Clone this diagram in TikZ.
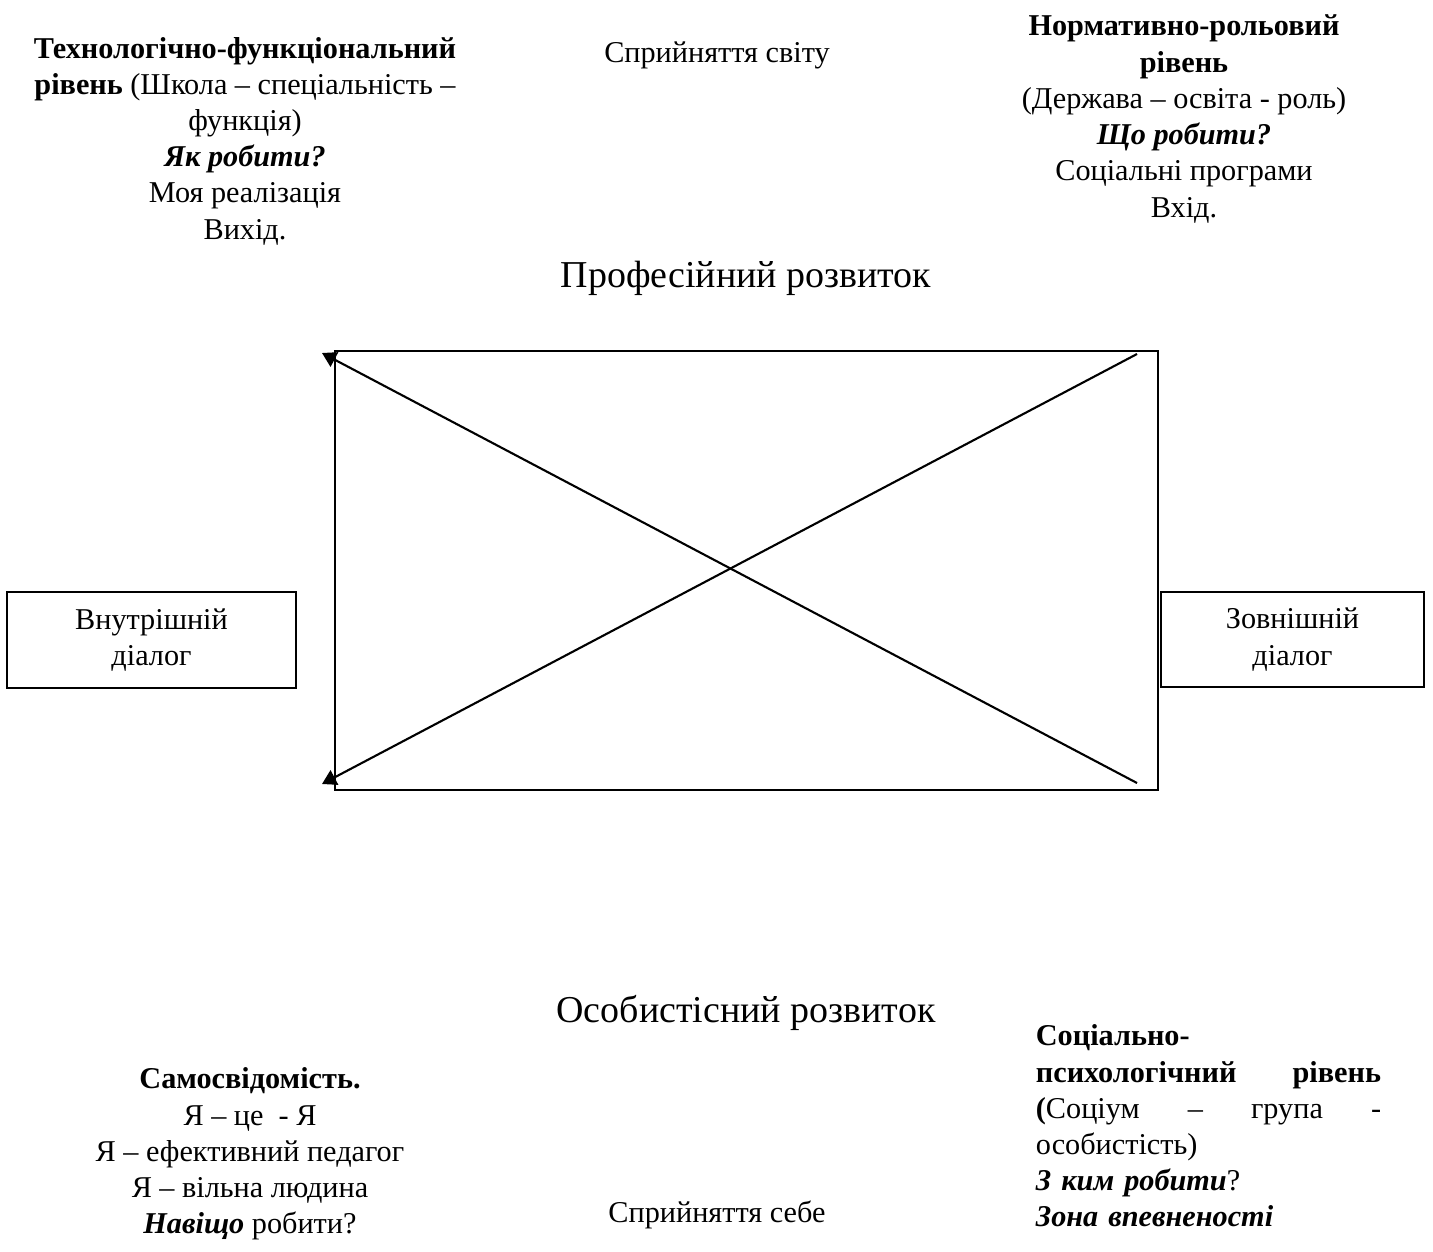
\documentclass[tikz,border=0pt]{standalone}
\usepackage{fontspec}
\setmainfont{Liberation Serif}
\usetikzlibrary{arrows.meta}

\begin{document}
\begin{tikzpicture}[x=0.01cm, y=-0.01cm,
        txt/.style={align=center, inner sep=0pt, font=\fontsize{8.6}{10.3}\selectfont},
        head/.style={inner sep=0pt, font=\fontsize{10.8}{13}\selectfont},
        dialog/.style={draw, line width=0.35pt, align=center, inner sep=0pt, font=\fontsize{8.6}{10.3}\selectfont},
        diag/.style={line width=0.6pt, -{Triangle[length=4pt, width=4.6pt]}}]
        \useasboundingbox (0, 0) rectangle (1433, 1251);

        \node[draw, line width=0.6pt, inner sep=0pt, minimum width=8.23cm, minimum height=4.39cm] (frame) at (746.5, 570.5) {};
        \node[dialog, minimum width=2.89cm, minimum height=0.96cm] (inner) at (151.5, 640) {Внутрішній\\діалог};
        \node[dialog, minimum width=2.63cm, minimum height=0.95cm] (outer) at (1292.5, 639.5) {Зовнішній\\діалог};

        \node[txt] (tech) at (245, 141) {\textbf{Технологічно-функціональний}\\\textbf{рівень} (Школа – спеціальність –\\функція)\\\textbf{\textit{Як робити?}}\\Моя реалізація\\Вихід.};
        \node[txt] (norm) at (1184, 119) {\textbf{Нормативно-рольовий}\\\textbf{рівень}\\(Держава – освіта - роль)\\\textbf{\textit{Що робити?}}\\Соціальні програми\\Вхід.};
        \node[txt] (world) at (717, 55) {Сприйняття світу};
        \node[head] (prof) at (746, 278) {Професійний розвиток};

        \node[head] (pers) at (746, 1013) {Особистісний розвиток};
        \node[txt] (self) at (250, 1154) {\textbf{Самосвідомість.}\\Я – це ~- Я\\Я – ефективний педагог\\Я – вільна людина\\\textbf{\textit{Навіщо}} робити?};
        \node[txt] (selfview) at (717, 1215) {Сприйняття себе};
        \node[txt, align=left, text width=3.45cm] (social) at (1208.5, 1126) {\textbf{Соціально-}\\\textbf{психологічний}\hfill\textbf{рівень}\\\textbf{(}Соціум\hfill–\hfill група\hfill-\\особистість)\\\textbf{\textit{З ким робити}}?\\\textbf{\textit{Зона впевненості}}};

        \coordinate (ne) at (1137, 354);
        \coordinate (se) at (1137, 783);
        \coordinate (nw) at (322, 353);
        \coordinate (sw) at (322, 784);

        \draw[diag] (se) -- (nw);
        \draw[diag] (ne) -- (sw);
    \end{tikzpicture}
\end{document}
